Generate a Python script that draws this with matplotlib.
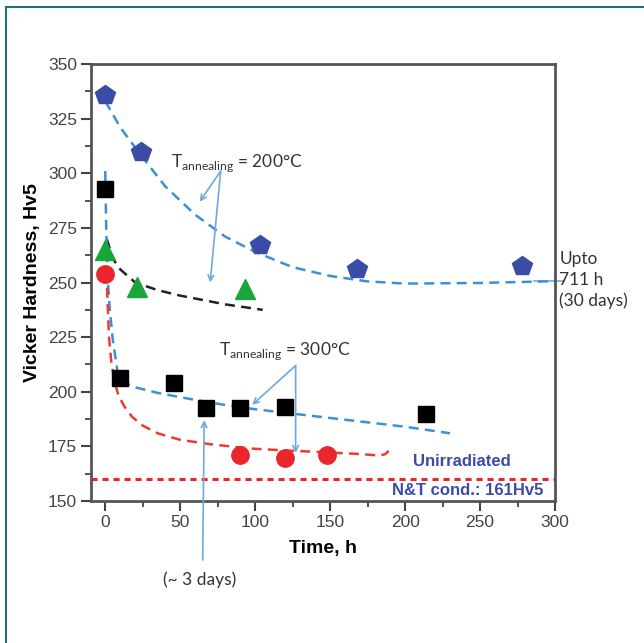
import matplotlib
matplotlib.use("Agg")
import matplotlib.pyplot as plt
from matplotlib.lines import Line2D
from matplotlib.ticker import MultipleLocator

# measured points
pent_x = [0, 24, 103, 168, 278]
pent_y = [336, 309.5, 267, 256, 257.5]
tri_x = [0, 21, 93]
tri_y = [265, 248, 247]
sq_x = [0, 10, 46, 67, 90, 120, 214]
sq_y = [293, 206.5, 204, 192.5, 192.5, 193, 190]
circ_x = [0, 90, 120, 148]
circ_y = [254, 171, 169.5, 171]

# hand-read fit curves
fit_blue_hi_x = [0, 10, 23, 40, 60, 80, 100, 125, 150, 175, 200, 250, 300]
fit_blue_hi_y = [333, 321, 309, 294, 281, 271, 264, 257, 253, 250.5, 249.5, 249.8, 250.6]
fit_black_x = [1, 5, 10, 20, 35, 50, 65, 80, 95, 105]
fit_black_y = [270, 261, 256, 250, 246.5, 244, 242, 240, 238.5, 237.5]
fit_blue_lo_x = [0, 0.5, 1, 2, 3, 5, 8, 10, 20, 35, 50, 75, 100, 125, 150, 175, 200, 230]
fit_blue_lo_y = [301, 280, 265, 248, 238, 224, 210, 205, 202, 199.5, 197.5, 194.5, 192, 190, 188, 186, 184, 181]
fit_red_x = [1, 1.5, 2.5, 4, 6, 9, 13, 18, 25, 35, 50, 70, 97, 125, 150, 170, 183, 187, 189]
fit_red_y = [255, 242, 225, 214, 205, 198, 193, 188.5, 184.5, 181, 178, 176, 174, 173, 172.2, 171.5, 170.8, 171.5, 173]

unirr_y = 160

fig = plt.figure(figsize=(6.44, 6.43), dpi=100)
ax = fig.add_axes([0.1413, 0.2208, 0.7205, 0.6797])

lblue = '#3d8fd8'
arrow_c = '#6fa9dc'

ax.plot(fit_blue_hi_x, fit_blue_hi_y, ls=(0, (4, 2.5)), color=lblue, lw=1.8, zorder=2)
ax.plot(fit_black_x, fit_black_y, ls=(0, (4, 2.5)), color='#222222', lw=1.8, zorder=2)
ax.plot(fit_blue_lo_x, fit_blue_lo_y, ls=(0, (4, 2.5)), color=lblue, lw=1.8, zorder=2)
ax.plot(fit_red_x, fit_red_y, ls=(0, (4, 2.5)), color='#ee3a2e', lw=1.8, zorder=2)
ax.axhline(unirr_y, ls=(0, (2, 1.6)), color='#e8262b', lw=2.2, zorder=2)

ax.plot(pent_x, pent_y, 'p', color='#3a4ca6', ms=15, mec='#3a4ca6', zorder=3)
ax.plot(tri_x, tri_y, '^', color='#18a63a', ms=14, zorder=3)
ax.plot(sq_x, sq_y, 's', color='black', ms=12, zorder=3)
ax.plot(circ_x, circ_y, 'o', color='#e8262b', ms=12.5, zorder=3)

ax.set_xlim(-9.5, 300)
ax.set_ylim(150, 350)
ax.xaxis.set_major_locator(MultipleLocator(50))
ax.xaxis.set_minor_locator(MultipleLocator(25))
ax.yaxis.set_major_locator(MultipleLocator(25))
ax.yaxis.set_minor_locator(MultipleLocator(12.5))
ax.tick_params(which='major', direction='out', length=7, width=1.5, color='#444444',
               labelsize=12.5, labelcolor='#444444', pad=3)
ax.tick_params(which='minor', direction='out', length=4, width=1.3, color='#444444')
for lab in ax.get_xticklabels() + ax.get_yticklabels():
    lab.set_family('Liberation Sans')
for s in ax.spines.values():
    s.set_color('#555555')
    s.set_linewidth(2)

ax.set_xlabel('Time, h', family='Liberation Sans', weight='bold', fontsize=14, labelpad=7)
ax.set_ylabel('Vicker Hardness, Hv5', family='Liberation Sans', weight='bold', fontsize=14, labelpad=5)

txt = dict(family='Lato', fontsize=12.5, color='#333333')
ax.text(44, 303, r'T$_{\mathregular{annealing}}$ = 200°C', **txt)
ax.text(76, 217, r'T$_{\mathregular{annealing}}$ = 300°C', **txt)
ax.text(303, 251, 'Upto\n711 h\n(30 days)', va='center', ha='left', linespacing=1.35,
        clip_on=False, **txt)
ax.text(63, 118, '(~ 3 days)', ha='center', va='top', clip_on=False, **txt)

ap = dict(arrowstyle='->', color=arrow_c, lw=1.2, shrinkA=0, shrinkB=0)
for tgt in [(63, 287), (70, 250)]:
    ax.annotate('', xy=tgt, xytext=(77, 301), arrowprops=ap)
for tgt in [(98, 194), (127, 172)]:
    ax.annotate('', xy=tgt, xytext=(127, 212), arrowprops=ap)
ax.annotate('', xy=(66, 187), xytext=(65, 123), arrowprops=ap, annotation_clip=False)
ax.plot([286, 306], [250.6, 250.6], color=arrow_c, lw=1.2, clip_on=False, zorder=1)

ax.text(238, 168, 'Unirradiated', ha='center', va='center', family='Liberation Sans',
        weight='bold', fontsize=12, color='#3d4aa8')
ax.text(242, 155, 'N&T cond.: 161Hv5', ha='center', va='center', family='Liberation Sans',
        weight='bold', fontsize=12, color='#3d4aa8')

# teal frame on top and left edges
fig.add_artist(Line2D([6 / 644, 1], [1 - 7 / 643] * 2, color='#1f7479', lw=1.5))
fig.add_artist(Line2D([6 / 644] * 2, [0, 1 - 7 / 643], color='#1f7479', lw=1.5))

fig.savefig('out.png', dpi=100)
